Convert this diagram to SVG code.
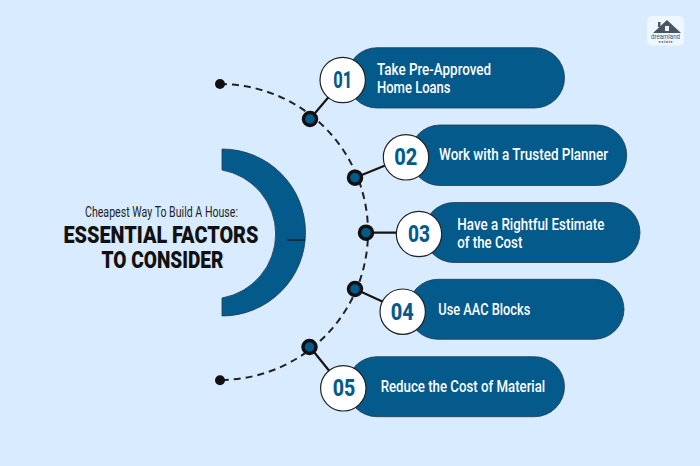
<svg xmlns="http://www.w3.org/2000/svg" width="700" height="466" viewBox="0 0 700 466">
<style>
.pill{fill:#055a8c;stroke:#1f3b4d;stroke-width:.8}
.num{fill:#fff;stroke:#222;stroke-width:1.2}
.n{font-family:"Roboto",sans-serif;font-weight:800;font-size:24px;fill:#055a8c;text-anchor:middle}
.t{font-family:"Roboto",sans-serif;font-weight:500;font-size:16px;fill:#fff}
.link{stroke:#151515;stroke-width:2.2;fill:none}
.dot{fill:#055a8c;stroke:#111;stroke-width:3.5}
.end{fill:#111}
.h{font-family:"Roboto",sans-serif;font-weight:900;font-size:24px;fill:#111;text-anchor:middle}
</style>
<rect width="700" height="466" fill="#d9ecff"/>
<g id="logo">
<rect x="647" y="16" width="37" height="29.500" rx="5" fill="#eef6ff"/>
<path d="M653 33 L667 20 L681 33 Z" fill="#4a5560"/>
<rect x="658" y="22" width="2.500" height="5" fill="#4a5560"/>
<rect x="665" y="26" width="4" height="5" fill="#eef6ff"/>
<text x="665.500" y="39" font-family="Roboto,sans-serif" font-size="7" fill="#4a5560" text-anchor="middle" textLength="29" lengthAdjust="spacingAndGlyphs">dreamland</text>
<text x="666" y="43" font-family="Roboto,sans-serif" font-size="3.500" font-weight="700" fill="#4a5560" text-anchor="middle" letter-spacing=".8">estate</text>
</g>
<g id="title">
<path d="M222 149 A83.500 83.500 0 0 1 222 316 V298 A65 65 0 0 0 222 170 Z" fill="#055a8c" stroke="#1f3b4d" stroke-width=".8"/>
<path d="M287 240 H305" stroke="#111" stroke-width="1.200"/>
<text x="161.500" y="216.500" font-family="Roboto,sans-serif" font-size="14" fill="#222" text-anchor="middle" textLength="153" lengthAdjust="spacingAndGlyphs">Cheapest Way To Build A House:</text>
<text x="161" y="243" class="h" textLength="195" lengthAdjust="spacingAndGlyphs">ESSENTIAL FACTORS</text>
<text x="162.500" y="268" class="h" textLength="122" lengthAdjust="spacingAndGlyphs">TO CONSIDER</text>
</g>
<g id="connectors">
<path d="M220 84 A148 148 0 0 1 220 380" fill="none" stroke="#222" stroke-width="2" stroke-dasharray="7 5"/>
<path class="link" d="M310 119 L343 80"/>
<path class="link" d="M355 177.700 L406 157"/>
<path class="link" d="M366 232.700 H419"/>
<path class="link" d="M355 289 L403 311"/>
<path class="link" d="M310 347 L343 388"/>
<circle class="end" cx="220" cy="84" r="5"/>
<circle class="end" cx="220" cy="380.300" r="5"/>
<circle class="dot" cx="310" cy="119" r="6.500"/>
<circle class="dot" cx="355" cy="177.700" r="6.500"/>
<circle class="dot" cx="366" cy="232.700" r="6.500"/>
<circle class="dot" cx="355" cy="289" r="6.500"/>
<circle class="dot" cx="309.500" cy="347" r="6.500"/>
</g>
<g id="node1">
<rect class="pill" x="347" y="47.700" width="217.500" height="60.300" rx="30"/>
<circle class="num" cx="342.700" cy="80" r="22.700"/>
<text class="n" x="342.700" y="88" textLength="19" lengthAdjust="spacingAndGlyphs">01</text>
<text class="t" x="377" y="75" textLength="114" lengthAdjust="spacingAndGlyphs">Take Pre-Approved</text>
<text class="t" x="377" y="92.700" textLength="73.500" lengthAdjust="spacingAndGlyphs">Home Loans</text>
</g>
<g id="node2">
<rect class="pill" x="410" y="125" width="216.700" height="60.500" rx="30"/>
<circle class="num" cx="406" cy="157.300" r="22.700"/>
<text class="n" x="405.700" y="165.300" textLength="23" lengthAdjust="spacingAndGlyphs">02</text>
<text class="t" x="439" y="160" textLength="169" lengthAdjust="spacingAndGlyphs">Work with a Trusted Planner</text>
</g>
<g id="node3">
<rect class="pill" x="424" y="202.500" width="216" height="60" rx="30"/>
<circle class="num" cx="419" cy="234" r="22.700"/>
<text class="n" x="419" y="242" textLength="22" lengthAdjust="spacingAndGlyphs">03</text>
<text class="t" x="457.300" y="230" textLength="147" lengthAdjust="spacingAndGlyphs">Have a Rightful Estimate</text>
<text class="t" x="457.300" y="247.700" textLength="65" lengthAdjust="spacingAndGlyphs">of the Cost</text>
</g>
<g id="node4">
<rect class="pill" x="408" y="279.300" width="216" height="60" rx="30"/>
<circle class="num" cx="402.700" cy="311.700" r="22.700"/>
<text class="n" x="402.300" y="319.700" textLength="23" lengthAdjust="spacingAndGlyphs">04</text>
<text class="t" x="438.300" y="315" textLength="92" lengthAdjust="spacingAndGlyphs">Use AAC Blocks</text>
</g>
<g id="node5">
<rect class="pill" x="347" y="356.700" width="217.500" height="60" rx="30"/>
<circle class="num" cx="343.300" cy="388.300" r="22.700"/>
<text class="n" x="344" y="396" textLength="22.500" lengthAdjust="spacingAndGlyphs">05</text>
<text class="t" x="380.700" y="391.500" textLength="164.500" lengthAdjust="spacingAndGlyphs">Reduce the Cost of Material</text>
</g>
</svg>
